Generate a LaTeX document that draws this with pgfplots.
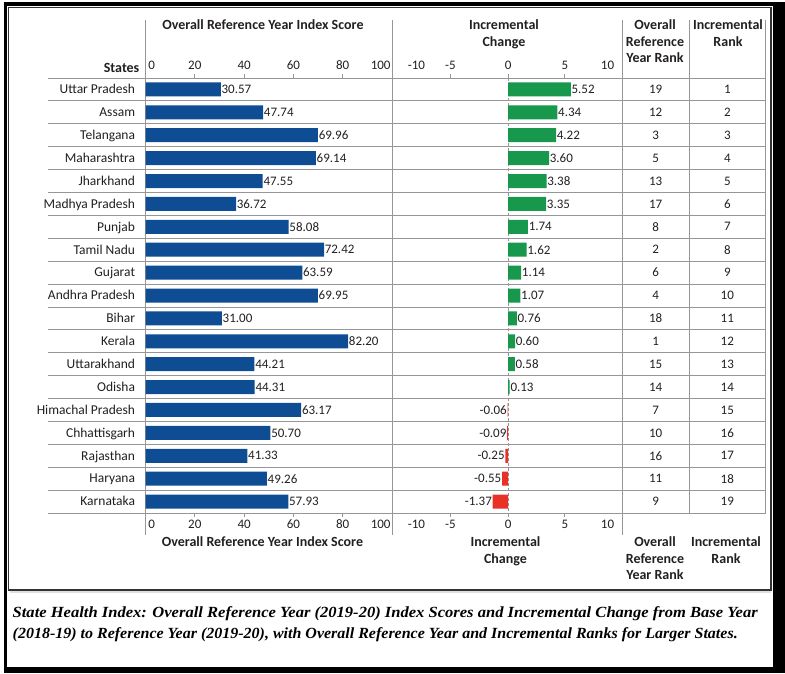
\documentclass[border=0pt]{standalone}
\usepackage{graphicx}
\usepackage{fontspec}
\setmainfont{Carlito}
\newfontfamily\capfont{Liberation Serif}
\usepackage{pgfplots}
\usepackage{pgfplotstable}
\pgfplotsset{compat=1.18}

\definecolor{barblue}{RGB}{14,76,148}
\definecolor{bargreen}{RGB}{24,152,76}
\definecolor{barred}{RGB}{232,50,40}
\definecolor{gridc}{RGB}{150,150,150}
\definecolor{txt}{RGB}{35,31,32}

% state, reference year score, incremental change, ranks
\pgfplotstableread[col sep=comma]{
idx,state,score,change,orank,irank
1,Uttar Pradesh,30.57,5.52,19,1
2,Assam,47.74,4.34,12,2
3,Telangana,69.96,4.22,3,3
4,Maharashtra,69.14,3.60,5,4
5,Jharkhand,47.55,3.38,13,5
6,Madhya Pradesh,36.72,3.35,17,6
7,Punjab,58.08,1.74,8,7
8,Tamil Nadu,72.42,1.62,2,8
9,Gujarat,63.59,1.14,6,9
10,Andhra Pradesh,69.95,1.07,4,10
11,Bihar,31.00,0.76,18,11
12,Kerala,82.20,0.60,1,12
13,Uttarakhand,44.21,0.58,15,13
14,Odisha,44.31,0.13,14,14
15,Himachal Pradesh,63.17,-0.06,7,15
16,Chhattisgarh,50.70,-0.09,10,16
17,Rajasthan,41.33,-0.25,16,17
18,Haryana,49.26,-0.55,11,18
19,Karnataka,57.93,-1.37,9,19
}\shi

\pgfplotsset{
  panel/.style={
    scale only axis, height=435pt, anchor=north west,
    ymin=0.5, ymax=19.5, y dir=reverse,
    axis line style={draw=none},
    tick style={draw=none},
    ytick=\empty,
    tick label style={font=\fontsize{13}{15}\selectfont, text=txt, inner sep=0pt, anchor=base},
  },
  upperlab/.style={xticklabel pos=upper, xticklabel style={yshift=9pt}},
  lowerlab/.style={xticklabel pos=lower, xticklabel style={yshift=-15pt}},
  vallab/.style={
    point meta=x,
    nodes near coords={\pgfmathprintnumber[fixed,fixed zerofill,precision=2,assume math mode=true]{\pgfplotspointmeta}},
    every node near coord/.append style={font=\fontsize{13}{15}\selectfont, text=txt, inner sep=0.6pt},
  },
}

\begin{document}
\begin{tikzpicture}
\begin{scope}[x=1pt,y=-1pt]
  % outer frame
  \path (0,0) rectangle (785,673);
  \fill[black] (3.5,1.5) rectangle (785,6);
  \fill[black] (3.5,1.5) rectangle (7.3,673);
  \fill[black] (773,1.5) rectangle (785,673);
  \fill[black] (3.5,667) rectangle (785,673);
  \draw[black!80, line width=1.1pt] (8.8,7.8) rectangle (771,590);
  \draw[black!12, line width=2pt] (10,592) -- (771,592);
  % table rules
  \foreach \k in {0,...,19}
    \draw[gridc, line width=0.8pt] (48,{78+22.895*\k}) -- (765.7,{78+22.895*\k});
  \foreach \xx in {145.5,392.5,622.3}
    \draw[gridc, line width=0.8pt] (\xx,20) -- (\xx,535);
  \foreach \xx in {689,765.7}
    \draw[gridc, line width=0.8pt] (\xx,20) -- (\xx,513);
  % headings
  \begin{scope}[every node/.style={font=\bfseries\fontsize{14}{16}\selectfont, text=txt, inner sep=0pt, anchor=base}]
    \node at (263,29.5) {Overall Reference Year Index Score};
    \node[anchor=base east] at (139.5,72.5) {States};
    \node at (504,29.5) {Incremental};
    \node at (504,46) {Change};
    \node at (655,29.5) {Overall};
    \node at (655,46) {Reference};
    \node at (655,62.5) {Year Rank};
    \node at (728,29.5) {Incremental};
    \node at (728,46) {Rank};
    \node at (262.5,546.5) {Overall Reference Year Index Score};
    \node at (505.5,546.5) {Incremental};
    \node at (505.5,563) {Change};
    \node at (655,546.5) {Overall};
    \node at (655,563) {Reference};
    \node at (655,579.5) {Year Rank};
    \node at (726,546.5) {Incremental};
    \node at (726,563) {Rank};
  \end{scope}
  % caption
  \begin{scope}[every node/.style={font=\capfont\bfseries\itshape\fontsize{15.5}{18}\selectfont, inner sep=0pt, anchor=base west}]
    \node at (12.5,617) {\resizebox{745pt}{\height}{State Health Index: Overall Reference Year (2019-20) Index Scores and Incremental Change from Base Year}};
    \node at (12.5,638) {\resizebox{725pt}{\height}{(2018-19) to Reference Year (2019-20), with Overall Reference Year and Incremental Ranks for Larger States.}};
  \end{scope}
\end{scope}

% left panel: reference year index score
\begin{axis}[panel, upperlab, at={(145.5pt,-78pt)}, width=246.5pt,
  xmin=0, xmax=100, xbar, bar width=14pt,
  xtick={2.5,20,40,60,80,95.4}, xticklabels={0,20,40,60,80,100},
  ytick={1,...,19}, yticklabels from table={\shi}{state},
  yticklabel style={font=\fontsize{13.5}{15}\selectfont, anchor=base east, xshift=-6pt, yshift=-4.3pt},
  clip=false]
  \pgfplotsinvokeforeach{20,40,60,80}{
    \draw[gridc, line width=0.8pt] (axis cs:#1,0.5) -- ([yshift=4pt]axis cs:#1,0.5);
    \draw[gridc, line width=0.8pt] (axis cs:#1,19.5) -- ([yshift=-4pt]axis cs:#1,19.5);
  }
  \addplot[fill=barblue, draw=none, vallab] table[x=score, y=idx] {\shi};
\end{axis}
\begin{axis}[panel, lowerlab, at={(145.5pt,-78pt)}, width=246.5pt,
  xmin=0, xmax=100,
  xtick={2.5,20,40,60,80,95.4}, xticklabels={0,20,40,60,80,100}]
  \addplot[draw=none] coordinates {(0,1)};
\end{axis}

% middle panel: incremental change
\begin{axis}[panel, upperlab, at={(392.7pt,-78pt)}, width=229.6pt,
  xmin=-10.2, xmax=10.07, xbar, bar width=14pt, bar shift=0pt,
  xtick={-8.1,-5.1,0,5,8.77}, xticklabels={-10,-5,0,5,10},
  clip=false]
  \draw[gridc, line width=0.8pt, dash pattern=on 3pt off 2pt] (axis cs:0,0.5) -- (axis cs:0,19.5);
  \pgfplotsinvokeforeach{-5.1,0,5}{
    \draw[gridc, line width=0.8pt] (axis cs:#1,0.5) -- ([yshift=4pt]axis cs:#1,0.5);
    \draw[gridc, line width=0.8pt] (axis cs:#1,19.5) -- ([yshift=-4pt]axis cs:#1,19.5);
  }
  \addplot[fill=bargreen, draw=none, vallab, x filter/.expression={x>0 ? x : nan},
    every node near coord/.append style={anchor=west}] table[x=change, y=idx] {\shi};
  \addplot[fill=barred, draw=none, vallab, x filter/.expression={x<0 ? x : nan},
    every node near coord/.append style={anchor=east}] table[x=change, y=idx] {\shi};
\end{axis}
\begin{axis}[panel, lowerlab, at={(392.7pt,-78pt)}, width=229.6pt,
  xmin=-10.2, xmax=10.07,
  xtick={-8.1,-5.1,0,5,8.77}, xticklabels={-10,-5,0,5,10}]
  \addplot[draw=none] coordinates {(0,1)};
\end{axis}

% rank columns
\begin{axis}[panel, at={(622.3pt,-78pt)}, width=143.4pt,
  xmin=622.3, xmax=765.7, xtick=\empty]
  \addplot[draw=none, mark=none, point meta=explicit symbolic, nodes near coords,
    every node near coord/.append style={font=\fontsize{13}{15}\selectfont, text=txt, anchor=center}]
    table[x expr=655.6, y=idx, meta=orank] {\shi};
  \addplot[draw=none, mark=none, point meta=explicit symbolic, nodes near coords,
    every node near coord/.append style={font=\fontsize{13}{15}\selectfont, text=txt, anchor=center}]
    table[x expr=727.3, y=idx, meta=irank] {\shi};
\end{axis}
\end{tikzpicture}
\end{document}
